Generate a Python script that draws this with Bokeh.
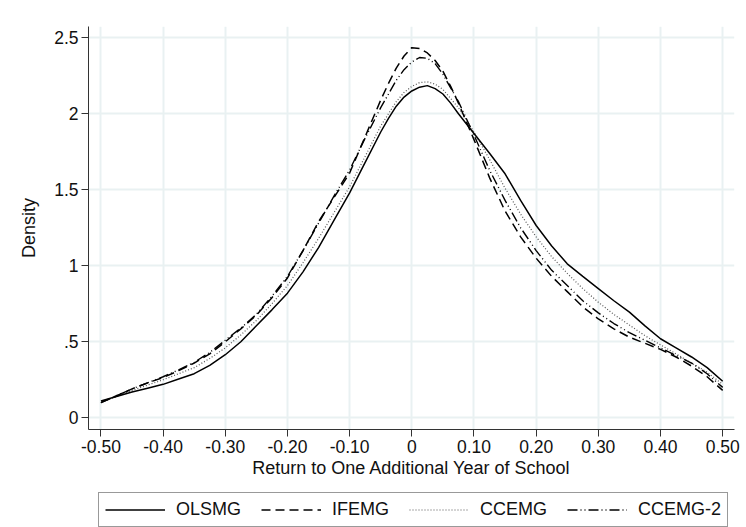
from bokeh.plotting import figure
from bokeh.layouts import column
from bokeh.models import Range1d, FixedTicker, Legend, LegendItem, ColumnDataSource
from bokeh.embed import file_html
from bokeh.resources import INLINE

# Return to one additional year of school (x) and kernel density estimates
x = [-0.500, -0.475, -0.450, -0.425, -0.400, -0.375, -0.350, -0.325, -0.300, -0.275,
     -0.250, -0.225, -0.200, -0.175, -0.150, -0.125, -0.100, -0.075, -0.050, -0.0375,
     -0.025, -0.0125, 0.000, 0.0125, 0.025, 0.0375, 0.050, 0.0625, 0.075, 0.100,
     0.125, 0.150, 0.175, 0.200, 0.225, 0.250, 0.275, 0.300, 0.325, 0.350,
     0.375, 0.400, 0.425, 0.450, 0.475, 0.500]

olsmg = [0.11, 0.14, 0.17, 0.195, 0.22, 0.255, 0.29, 0.345, 0.415, 0.50,
         0.605, 0.71, 0.82, 0.96, 1.12, 1.30, 1.48, 1.68, 1.88, 1.97,
         2.05, 2.11, 2.15, 2.175, 2.185, 2.165, 2.13, 2.07, 2.00, 1.87,
         1.74, 1.605, 1.43, 1.265, 1.13, 1.013, 0.93, 0.85, 0.77, 0.695,
         0.605, 0.52, 0.46, 0.40, 0.33, 0.24]

ifemg = [0.10, 0.145, 0.19, 0.23, 0.265, 0.31, 0.36, 0.42, 0.50, 0.585,
         0.675, 0.79, 0.92, 1.10, 1.29, 1.45, 1.61, 1.85, 2.09, 2.20,
         2.30, 2.38, 2.435, 2.43, 2.40, 2.35, 2.28, 2.18, 2.07, 1.83,
         1.58, 1.36, 1.19, 1.05, 0.93, 0.83, 0.73, 0.65, 0.585, 0.53,
         0.49, 0.45, 0.40, 0.34, 0.27, 0.18]

ccemg = [0.10, 0.14, 0.18, 0.215, 0.25, 0.29, 0.33, 0.39, 0.46, 0.545,
         0.64, 0.75, 0.87, 1.02, 1.18, 1.35, 1.52, 1.72, 1.92, 2.00,
         2.08, 2.14, 2.18, 2.205, 2.21, 2.195, 2.16, 2.10, 2.04, 1.88,
         1.70, 1.51, 1.34, 1.19, 1.06, 0.95, 0.85, 0.76, 0.68, 0.61,
         0.54, 0.48, 0.42, 0.36, 0.30, 0.22]

ccemg2 = [0.10, 0.145, 0.19, 0.23, 0.27, 0.315, 0.365, 0.43, 0.51, 0.59,
          0.68, 0.80, 0.93, 1.10, 1.28, 1.46, 1.63, 1.84, 2.04, 2.13,
          2.22, 2.29, 2.34, 2.37, 2.365, 2.33, 2.26, 2.17, 2.08, 1.86,
          1.63, 1.43, 1.25, 1.10, 0.97, 0.87, 0.77, 0.69, 0.62, 0.56,
          0.51, 0.46, 0.41, 0.36, 0.29, 0.20]

x_ticks = [-0.5, -0.4, -0.3, -0.2, -0.1, 0.0, 0.1, 0.2, 0.3, 0.4, 0.5]
x_tick_labels = ["-0.50", "-0.40", "-0.30", "-0.20", "-0.10", "0",
                 "0.10", "0.20", "0.30", "0.40", "0.50"]
y_ticks = [0, 0.5, 1, 1.5, 2, 2.5]
y_tick_labels = ["0", ".5", "1", "1.5", "2", "2.5"]
series_names = ["OLSMG", "IFEMG", "CCEMG", "CCEMG-2"]

src = ColumnDataSource(dict(x=x, olsmg=olsmg, ifemg=ifemg, ccemg=ccemg, ccemg2=ccemg2))

FONT = "Liberation Sans"
GRID = "#e9f1f2"

STYLES = [dict(line_color="black", line_width=1.5),
          dict(line_color="black", line_width=1.5, line_dash="9 5"),
          dict(line_color="#555555", line_width=1.2, line_dash="1 2"),
          dict(line_color="black", line_width=1.4, line_dash="10 3 1 3 1 3")]
cols = ["olsmg", "ifemg", "ccemg", "ccemg2"]

p = figure(frame_width=646, frame_height=403,
           x_range=Range1d(-0.52, 0.519), y_range=Range1d(-0.077, 2.574),
           output_backend="svg", toolbar_location=None,
           min_border_left=88, min_border_right=12, min_border_top=26, min_border_bottom=4)
p.outline_line_color = None
p.background_fill_color = "white"
p.border_fill_color = "white"

for ax in (p.xaxis[0], p.yaxis[0]):
    ax.axis_line_color = "#333333"
    ax.axis_line_width = 1
    ax.major_tick_line_color = "#333333"
    ax.major_tick_out = 7
    ax.major_tick_in = 0
    ax.minor_tick_out = 0
    ax.minor_tick_in = 0
    ax.major_label_text_font = FONT
    ax.major_label_text_font_size = "17.5px"
    ax.major_label_text_color = "#111111"
    ax.axis_label_text_font = FONT
    ax.axis_label_text_font_size = "18px"
    ax.axis_label_text_font_style = "normal"
    ax.axis_label_text_color = "#111111"
    ax.major_label_standoff = 3

p.xaxis.ticker = FixedTicker(ticks=x_ticks)
p.xaxis.major_label_overrides = dict(zip(x_ticks, x_tick_labels))
p.yaxis.ticker = FixedTicker(ticks=y_ticks)
p.yaxis.major_label_overrides = dict(zip(y_ticks, y_tick_labels))
p.yaxis.major_label_orientation = "horizontal"
p.xaxis.axis_label = "Return to One Additional Year of School"
p.yaxis.axis_label = "Density"
p.xaxis.axis_label_standoff = 2
p.yaxis.axis_label_standoff = 12

p.xgrid.ticker = FixedTicker(ticks=x_ticks)
p.ygrid.ticker = FixedTicker(ticks=y_ticks)
for g in (p.xgrid[0], p.ygrid[0]):
    g.grid_line_color = GRID
    g.grid_line_width = 2

for i in [2, 3, 1, 0]:
    p.line("x", cols[i], source=src, **STYLES[i])

# Legend strip below the plot: a small figure whose view lies away from the data,
# so only the legend samples of the same four series styles are visible.
leg = figure(width=746, height=48, output_backend="svg", toolbar_location=None,
             x_range=Range1d(5, 6), y_range=Range1d(5, 6),
             x_axis_location=None, y_axis_location=None,
             min_border_left=0, min_border_right=0, min_border_top=0, min_border_bottom=0)
leg.outline_line_color = None
leg.xgrid.visible = False
leg.ygrid.visible = False
items = []
for i in range(4):
    r = leg.line("x", cols[i], source=src, **STYLES[i])
    items.append(LegendItem(label=series_names[i], renderers=[r]))

legend = Legend(items=items, orientation="horizontal", location=(10, 1),
                label_text_font=FONT, label_text_font_size="18px", label_text_color="#111111",
                glyph_width=60, glyph_height=21, label_height=21, label_standoff=11,
                spacing=20, padding=6, margin=0,
                border_line_color="#333333", border_line_width=1,
                background_fill_color="white")
leg.add_layout(legend, "center")

layout = column(p, leg, spacing=0)
open("out.html", "w").write(file_html(layout, INLINE))
